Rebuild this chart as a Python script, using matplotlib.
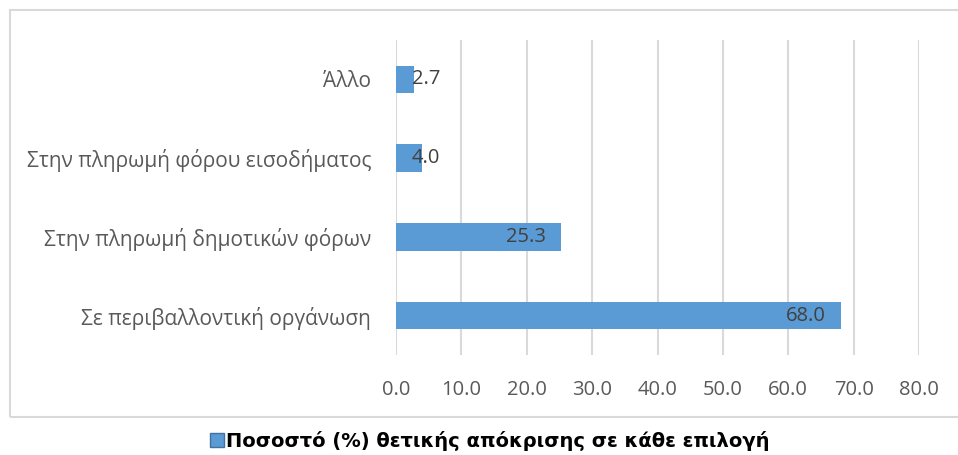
import matplotlib
matplotlib.use('Agg')
import matplotlib.pyplot as plt
from matplotlib.patches import Rectangle
import numpy as np

# data (bottom to top)
categories = ['Σε περιβαλλοντική οργάνωση',
              'Στην πληρωμή δημοτικών φόρων',
              'Στην πληρωμή φόρου εισοδήματος',
              'Άλλο']
values = [68.0, 25.3, 4.0, 2.7]
xticks = [0, 10, 20, 30, 40, 50, 60, 70, 80]
legend_label = 'Ποσοστό (%) θετικής απόκρισης σε κάθε επιλογή'

bar_color = '#5B9BD5'
text_color = '#595959'
grid_color = '#D9D9D9'

fig = plt.figure(figsize=(9.58, 4.55), dpi=100)
ax = fig.add_axes([0.4134, 0.2198, 0.5459, 0.6923])

# outer chart frame
fig.patches.append(Rectangle((10 / 958, 1 - 417 / 455), 1.0, (417 - 10) / 455,
                             transform=fig.transFigure, fill=False,
                             edgecolor=grid_color, linewidth=1.5))

y = np.arange(len(categories))
bars = ax.barh(y, values, height=0.35, color=bar_color, zorder=3,
               label=legend_label)

ax.set_xlim(0, 80)
ax.set_ylim(-0.5, len(categories) - 0.5)
ax.set_xticks(xticks)
ax.set_xticklabels(['%.1f' % t for t in xticks])
ax.set_yticks(y)
ax.set_yticklabels(categories)
ax.tick_params(axis='y', length=0, labelcolor=text_color, labelsize=15, pad=18)
ax.tick_params(axis='x', length=0, labelcolor=text_color, labelsize=14.5, pad=18)
for lab in ax.get_xticklabels() + ax.get_yticklabels():
    lab.set_family('Open Sans')

ax.grid(axis='x', color=grid_color, linewidth=1.5, zorder=0)
for s in ax.spines.values():
    s.set_visible(False)

# data labels
for v, yy in zip(values, y):
    if v > 10:
        ax.annotate('%.1f' % v, (v, yy), xytext=(-11, 0), textcoords='offset points',
                    ha='right', va='center', color='#404040', fontsize=14.5,
                    family='Open Sans', zorder=4)
    else:
        ax.annotate('%.1f' % v, (0, yy), xytext=(11.5, 0), textcoords='offset points',
                    ha='left', va='center', color='#404040', fontsize=14.5,
                    family='Open Sans', zorder=4)

fig.legend(handles=[bars], labels=[legend_label], loc='center',
           bbox_to_anchor=(490 / 958, 1 - 441 / 455), frameon=False,
           handlelength=0.7, handleheight=0.7, handletextpad=0.1,
           prop={'family': 'DejaVu Sans', 'weight': 'bold', 'size': 14})
leg_patch = fig.legends[0].get_patches()[0]
leg_patch.set_edgecolor('#41719C')

fig.savefig('out.png', dpi=100)
